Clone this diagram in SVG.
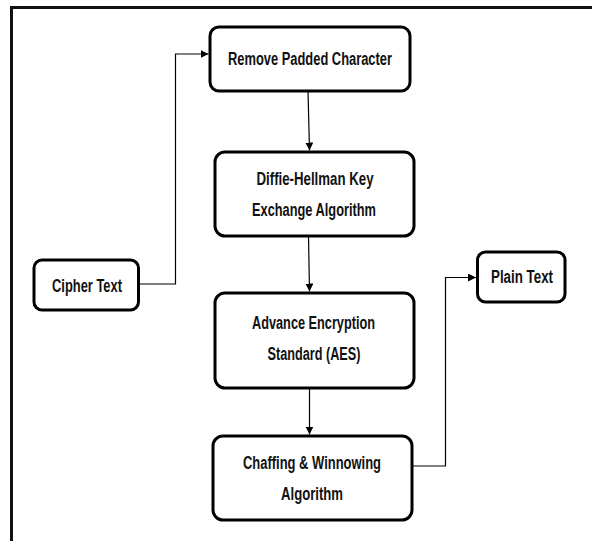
<svg xmlns="http://www.w3.org/2000/svg" width="592" height="541" viewBox="0 0 592 541">
<style>
.box{fill:#fff;stroke:#000;stroke-width:3}
.t{font-family:"Liberation Sans",Arial,sans-serif;font-weight:bold;font-size:18px;fill:#111;text-anchor:middle}
.c{fill:none;stroke:#000;stroke-width:1.2}
</style>
<defs>
<marker id="ah" viewBox="0 0 10 10" refX="10" refY="5" markerWidth="8" markerHeight="8" markerUnits="userSpaceOnUse" orient="auto">
<path d="M0,0 L10,5 L0,10 z" fill="#000"/>
</marker>
</defs>
<rect width="592" height="541" fill="#fff"/>
<path d="M11.5,541 V7.5 H592" fill="none" stroke="#111" stroke-width="3"/>
<g id="remove">
<rect class="box" x="210" y="27" width="200" height="64" rx="9"/>
<text class="t" x="310" y="65" textLength="164" lengthAdjust="spacingAndGlyphs">Remove Padded Character</text>
</g>
<g id="diffie">
<rect class="box" x="215" y="152" width="199" height="84" rx="10"/>
<text class="t" x="315" y="185" textLength="117" lengthAdjust="spacingAndGlyphs">Diffie-Hellman Key</text>
<text class="t" x="314" y="216" textLength="124" lengthAdjust="spacingAndGlyphs">Exchange Algorithm</text>
</g>
<g id="aes">
<rect class="box" x="215" y="293" width="199" height="95" rx="10"/>
<text class="t" x="313.5" y="329" textLength="123" lengthAdjust="spacingAndGlyphs">Advance Encryption</text>
<text class="t" x="314" y="360" textLength="93" lengthAdjust="spacingAndGlyphs">Standard (AES)</text>
</g>
<g id="chaffing">
<rect class="box" x="213" y="436" width="199" height="84" rx="10"/>
<text class="t" x="312" y="469" textLength="138" lengthAdjust="spacingAndGlyphs">Chaffing &amp; Winnowing</text>
<text class="t" x="312" y="500" textLength="62" lengthAdjust="spacingAndGlyphs">Algorithm</text>
</g>
<g id="cipher">
<rect class="box" x="34" y="260" width="104.5" height="50" rx="8"/>
<text class="t" x="87" y="292" textLength="70" lengthAdjust="spacingAndGlyphs">Cipher Text</text>
</g>
<g id="plain">
<rect class="box" x="477.5" y="252" width="87.5" height="50" rx="8"/>
<text class="t" x="522" y="283" textLength="62" lengthAdjust="spacingAndGlyphs">Plain Text</text>
</g>
<g id="connectors">
<path class="c" d="M138.5,284 H175.5 V54 H208.5" marker-end="url(#ah)"/>
<path class="c" d="M308,91 L309.5,150.5" marker-end="url(#ah)"/>
<path class="c" d="M308.5,236 L309.5,291.5" marker-end="url(#ah)"/>
<path class="c" d="M309.5,388 V434.5" marker-end="url(#ah)"/>
<path class="c" d="M412,466 H445.5 V277.5 H476" marker-end="url(#ah)"/>
</g>
</svg>
